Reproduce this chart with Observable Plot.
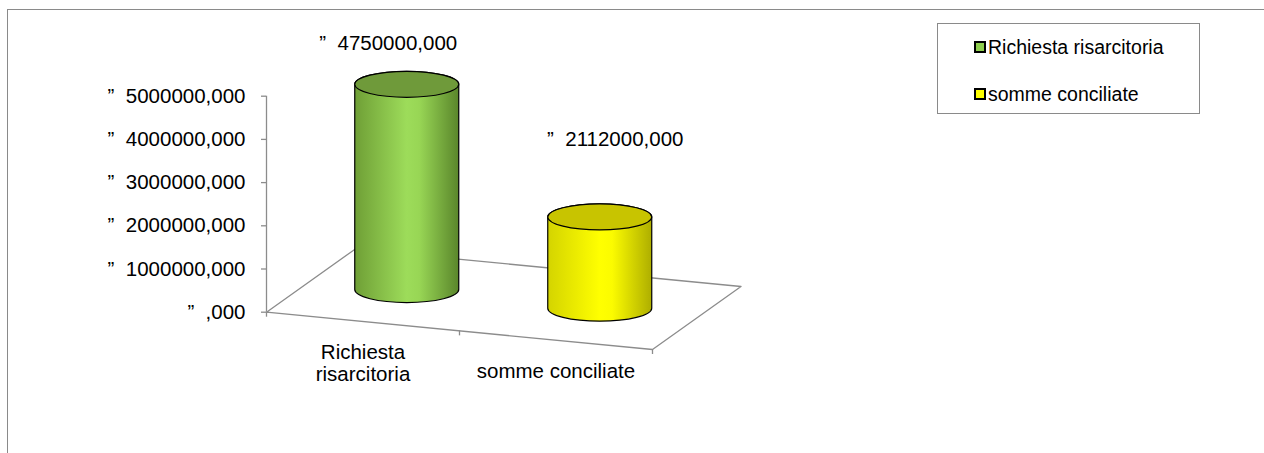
<!DOCTYPE html>
<html>
<head>
<meta charset="utf-8">
<script src="https://cdn.jsdelivr.net/npm/d3@7"></script>
<script src="https://cdn.jsdelivr.net/npm/@observablehq/plot@0.6"></script>
<style>
  html, body { margin: 0; padding: 0; background: #fff; overflow: hidden; }
  #wrap { position: relative; width: 1264px; height: 453px; overflow: hidden; font-family: "Liberation Sans", Arial, sans-serif; }
  #frame { position: absolute; left: 7px; top: 9px; width: 1320px; height: 520px; border: 1px solid #8a8a8a; box-sizing: border-box; }
  #chart { position: absolute; left: 0; top: 0; }
  #legend { position: absolute; left: 937px; top: 23px; width: 263px; height: 91px; border: 1px solid #8a8a8a; box-sizing: border-box; background: #fff; font-size: 19.5px; color: #000; }
  .item { position: absolute; left: 36px; display: flex; align-items: center; height: 24px; white-space: nowrap; }
  .sw { width: 8px; height: 8px; border: 2px solid #000; margin-right: 2px; }
</style>
</head>
<body>
<div id="wrap">
  <div id="frame"></div>
  <div id="chart"></div>
  <div id="legend"></div>
</div>
<script>
// ---- data ----
const categories = ["Richiesta risarcitoria", "somme conciliate"];
const categoryLabels = ["Richiesta\nrisarcitoria", "somme conciliate"];
const values = [4750000, 2112000];
const yTicks = [0, 1000000, 2000000, 3000000, 4000000, 5000000];

// ---- styles ----
const bodyStops = [
  [["0%", "#6f9f36"], ["50%", "#9ddc5a"], ["62%", "#98d655"], ["100%", "#5a862b"]],
  [["0%", "#d4d400"], ["50%", "#ffff00"], ["62%", "#fbfb00"], ["100%", "#aeae00"]]
];
const topColors = ["#6f9a3a", "#c8c400"];
const swatchColors = ["#8fcf4e", "#ffff00"];
const labelOffsets = [[-19, -41], [15, -78]];   // [dx, dy] of value labels (px)
const gridColor = "#8c8c8c";
const font = "\"Liberation Sans\", Arial, sans-serif";

// pseudo-3D projection: u = category position, d = depth (0 front, 1 back), v = value
const pxPerUnit = 193, pxPerValue = 43.2 / 1e6;
const depthX = 88.5 / pxPerUnit;          // x-units per depth
const depthY = 63 / pxPerValue;           // value-units per depth
const slopeY = 18.65 / pxPerValue;        // value-units drop per category unit
const projX = (u, d) => u + d * depthX;
const projY = (u, d, v) => v - u * slopeY + d * depthY;

const n = categories.length;
const halfW = 52 / pxPerUnit;
const ry = 13, rx = 52;

const locale = d3.formatLocale({decimal: ",", thousands: "", grouping: [3]});
const f3 = locale.format(".3f");
const fmt = v => "\u201D\u00a0\u00a0" + f3(v).replace(/^0(?=,)/, "");

const bars = categories.map((c, i) => {
  const u = i + 0.5, d = 0.5;
  return {
    category: c, label: categoryLabels[i], value: values[i], i,
    xc: projX(u, d), base: projY(u, d, 0), top: projY(u, d, values[i]),
    fx: projX(u, 0), fy: projY(u, 0, 0)
  };
});

const floor = [[0, 0], [n, 0], [n, 1], [0, 1], [0, 0]].map(([u, d]) => ({x: projX(u, d), y: projY(u, d, 0)}));
const catTicks = d3.range(n + 1).map(u => ({x: projX(u, 0), y: projY(u, 0, 0)}));
const tickLen = 5 / pxPerValue;

const marks = [
  Plot.line(floor, {x: "x", y: "y", stroke: gridColor, strokeWidth: 1.3}),
  Plot.ruleX(catTicks, {x: "x", y1: "y", y2: d => d.y - tickLen, stroke: gridColor, strokeWidth: 1.3}),
  Plot.ruleX([0], {y1: 0, y2: 5000000, stroke: gridColor, strokeWidth: 1.3}),
  Plot.axisY({ticks: yTicks, tickFormat: fmt, tickSize: 5, tickPadding: 16, stroke: gridColor, strokeWidth: 1.3,
              fontSize: 20.5, fill: "#000", label: null})
];
bars.forEach(b => {
  marks.push(Plot.rect([b], {
    x1: d => d.xc - halfW, x2: d => d.xc + halfW, y1: "base", y2: "top",
    insetTop: -ry, insetBottom: -ry, rx, ry,
    fill: `url(#body${b.i})`, stroke: "#000", strokeWidth: 1.2
  }));
  marks.push(Plot.rect([b], {
    x1: d => d.xc - halfW, x2: d => d.xc + halfW, y1: "top", y2: "top",
    insetTop: -ry, insetBottom: -ry, rx, ry,
    fill: topColors[b.i], stroke: "#000", strokeWidth: 1.2
  }));
  marks.push(Plot.text([b], {
    x: "xc", y: "top", text: d => fmt(d.value),
    dx: labelOffsets[b.i][0], dy: labelOffsets[b.i][1], fontSize: 20.5, fill: "#000"
  }));
});
marks.push(Plot.text(bars, {
  x: "fx", y: "fy", text: "label", lineAnchor: "top", dy: 22, lineHeight: 1.06,
  fontSize: 20.5, fill: "#000"
}));

const svg = Plot.plot({
  width: 1264, height: 453,
  marginLeft: 266, marginRight: 612, marginTop: 95.7, marginBottom: 141.3,
  x: {domain: [0, n], axis: null},
  y: {domain: [0, 5000000], axis: null},
  style: {fontFamily: font, fontSize: "20.5px", background: "transparent", color: "#000", overflow: "visible"},
  marks
});

const defs = d3.select(svg).insert("defs", ":first-child");
bodyStops.forEach((stops, i) => {
  const g = defs.append("linearGradient").attr("id", `body${i}`).attr("x1", 0).attr("x2", 1).attr("y1", 0).attr("y2", 0);
  stops.forEach(([o, c]) => g.append("stop").attr("offset", o).attr("stop-color", c));
});
document.getElementById("chart").appendChild(svg);

// legend
const legend = d3.select("#legend");
categories.forEach((c, i) => {
  const it = legend.append("div").attr("class", "item").style("top", (i === 0 ? 11 : 58) + "px");
  it.append("div").attr("class", "sw").style("background", swatchColors[i]);
  it.append("span").text(c);
});
</script>
</body>
</html>
